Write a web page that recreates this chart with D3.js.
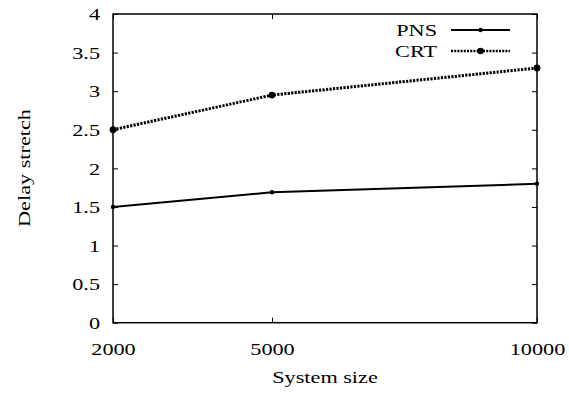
<!DOCTYPE html>
<html><head><meta charset="utf-8">
<script src="https://cdn.jsdelivr.net/npm/d3@7"></script>
<style>body{margin:0;background:#fff}svg{display:block}text{font-family:"Liberation Serif","Times New Roman",serif;fill:#000}</style>
</head><body><svg id="c" width="569" height="394"></svg>
<script>
const sizes = [2000, 5000, 10000];
const pns = [1.5, 1.69, 1.8];
const crt = [2.5, 2.95, 3.3];
const yTicks = [0, 0.5, 1, 1.5, 2, 2.5, 3, 3.5, 4];
const xTicks = [2000, 5000, 10000];
const seriesNames = ["PNS", "CRT"];

const svg = d3.select("#c");
const L = 113, R = 537, T = 14, B = 322.7;
const x = d3.scaleLinear().domain([2000, 10000]).range([L, R]);
const y = d3.scaleLinear().domain([0, 4]).range([B, T]);
const fs = "17.5px";
const SX = 1.27;
const FF = '"Liberation Serif","Times New Roman",serif';

// frame
svg.append("rect").attr("x", L).attr("y", T).attr("width", R - L).attr("height", B - T)
  .attr("fill", "none").attr("stroke", "#000").attr("stroke-width", 1.5);

const yl = svg.append("g").attr("transform", `translate(${L},0)`)
  .call(d3.axisLeft(y).tickValues(yTicks).tickSizeInner(-5).tickSizeOuter(0).tickFormat(d3.format("")));
const yr = svg.append("g").attr("transform", `translate(${R},0)`)
  .call(d3.axisRight(y).tickValues(yTicks).tickSizeInner(-5).tickSizeOuter(0).tickFormat(""));
const xb = svg.append("g").attr("transform", `translate(0,${B})`)
  .call(d3.axisBottom(x).tickValues(xTicks).tickSizeInner(-5).tickSizeOuter(0).tickFormat(d3.format("")));
const xt = svg.append("g").attr("transform", `translate(0,${T})`)
  .call(d3.axisTop(x).tickValues(xTicks).tickSizeInner(-5).tickSizeOuter(0).tickFormat(""));
[yl, yr, xb, xt].forEach(g => {
  g.attr("font-family", FF).attr("font-size", fs);
  g.select(".domain").remove();
  g.selectAll("line").attr("stroke", "#000").attr("stroke-width", 1);
  g.selectAll("text").style("font-size", fs).style("font-family", FF).attr("fill", "#000");
});
yl.selectAll("text").attr("x", -13 / SX).attr("dy", "0.33em").attr("transform", `scale(${SX},1)`);
xb.selectAll("text").attr("y", 32.3).attr("dy", 0).attr("transform", `scale(${SX},1)`);

// axis titles
svg.append("text").attr("transform", `translate(${(L + R) / 2},383) scale(${SX},1)`).attr("text-anchor", "middle")
  .style("font-size", fs).text("System size");
svg.append("text").attr("transform", `translate(30,168) rotate(-90) scale(${SX},1)`).attr("text-anchor", "middle")
  .style("font-size", fs).text("Delay stretch");

const line = d3.line().x((d, i) => x(sizes[i])).y(d => y(d));

// PNS
svg.append("path").datum(pns).attr("d", line).attr("fill", "none").attr("stroke", "#000").attr("stroke-width", 2);
svg.selectAll(".pp").data(pns).enter().append("circle").attr("cx", (d, i) => x(sizes[i])).attr("cy", d => y(d)).attr("r", 2.2).attr("fill", "#000");
// CRT
svg.append("path").datum(crt).attr("d", line).attr("fill", "none").attr("stroke", "#000").attr("stroke-width", 3).attr("stroke-dasharray", "2.2,1.3");
svg.selectAll(".cp").data(crt).enter().append("circle").attr("cx", (d, i) => x(sizes[i])).attr("cy", d => y(d)).attr("r", 3.4).attr("fill", "#000");

// legend
const leg = [{n: seriesNames[0], y: 30, w: 2, dash: null, r: 2.2}, {n: seriesNames[1], y: 51, w: 2.5, dash: "2,1.2", r: 3.3}];
leg.forEach(l => {
  svg.append("text").attr("transform", `translate(437,${l.y + 6}) scale(${SX},1)`).attr("text-anchor", "end").style("font-size", fs).text(l.n);
  const ln = svg.append("line").attr("x1", 451).attr("x2", 510).attr("y1", l.y).attr("y2", l.y).attr("stroke", "#000").attr("stroke-width", l.w);
  if (l.dash) ln.attr("stroke-dasharray", l.dash);
  svg.append("circle").attr("cx", 480.5).attr("cy", l.y).attr("r", l.r).attr("fill", "#000");
});
</script></body></html>
